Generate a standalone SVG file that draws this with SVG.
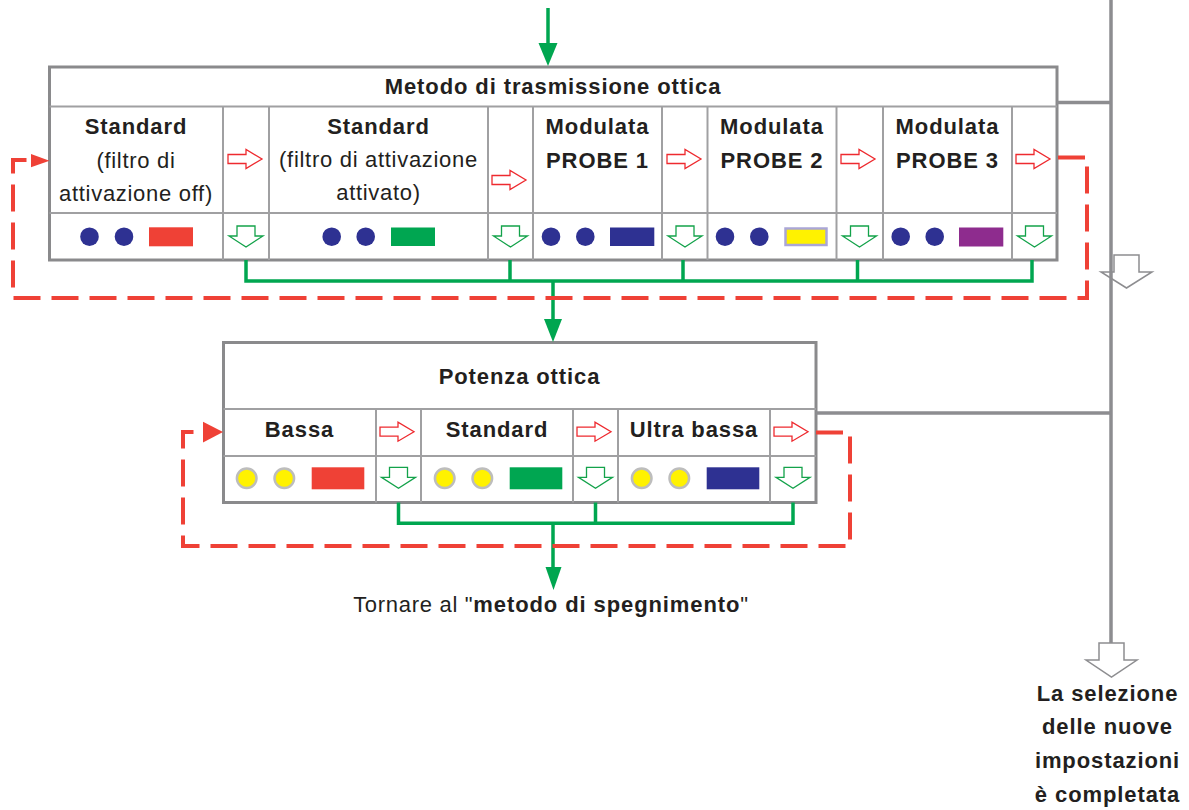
<svg xmlns="http://www.w3.org/2000/svg" xmlns:xlink="http://www.w3.org/1999/xlink" width="1189" height="810" viewBox="0 0 1189 810">
<style>
  text { font-family: "Liberation Sans", Arial, Helvetica, sans-serif; fill: #231f20; font-size: 22px; }
  .b { font-weight: bold; letter-spacing: 0.9px; text-anchor: middle; }
  .r { font-weight: normal; letter-spacing: 0.7px; text-anchor: middle; }
  .outer { fill: #ffffff; stroke: #8a8a8c; stroke-width: 3; }
  .inner { stroke: #a0a0a2; stroke-width: 2; fill: none; }
  .grey { stroke: #8d8d90; stroke-width: 3.5; fill: none; }
  .green { stroke: #00a650; stroke-width: 3.5; fill: none; }
  .dash { stroke: #ef4136; stroke-width: 4; fill: none; stroke-dasharray: 27 11; }
  .navy { fill: #2e3192; }
  .yel { fill: #fff200; stroke: #bdbdbd; stroke-width: 2.5; }
  .hollow { fill: none; stroke: #8d8d90; stroke-width: 1.5; }
</style>
<defs>
  <path id="ra" d="M0,-4.5 H18 V-9.5 L34,0 L18,9.5 V4.5 H0 Z" fill="#ffffff" stroke="#ee2a2f" stroke-width="1.3"/>
  <path id="ga" d="M-9,0 H9 V10 H17 L0,21 L-17,10 H-9 Z" fill="#ffffff" stroke="#13a24a" stroke-width="1.3"/>
</defs>

<!-- Table: Metodo di trasmissione ottica -->
<g id="table-metodo">
  <rect class="outer" x="49.5" y="67" width="1007.5" height="193"/>
  <line class="inner" x1="49.5" y1="106.5" x2="1057" y2="106.5"/>
  <line class="inner" x1="49.5" y1="213" x2="1057" y2="213"/>
  <g class="inner">
    <line x1="223" y1="106.5" x2="223" y2="260"/>
    <line x1="269" y1="106.5" x2="269" y2="260"/>
    <line x1="488" y1="106.5" x2="488" y2="260"/>
    <line x1="533" y1="106.5" x2="533" y2="260"/>
    <line x1="662" y1="106.5" x2="662" y2="260"/>
    <line x1="707.5" y1="106.5" x2="707.5" y2="260"/>
    <line x1="836.5" y1="106.5" x2="836.5" y2="260"/>
    <line x1="883" y1="106.5" x2="883" y2="260"/>
    <line x1="1012" y1="106.5" x2="1012" y2="260"/>
  </g>
  <text class="b" x="553" y="94">Metodo di trasmissione ottica</text>

  <g id="opt-standard-off">
    <text class="b" x="136" y="134">Standard</text>
    <text class="r" x="136" y="168">(filtro di</text>
    <text class="r" x="136" y="201">attivazione off)</text>
    <circle class="navy" cx="89.5" cy="236.7" r="9.3"/>
    <circle class="navy" cx="124" cy="236.7" r="9.3"/>
    <rect x="149" y="227.3" width="44" height="19" fill="#ef4136"/>
  </g>
  <g id="opt-standard-on">
    <text class="b" x="378.5" y="134">Standard</text>
    <text class="r" x="378.5" y="167">(filtro di attivazione</text>
    <text class="r" x="378.5" y="200">attivato)</text>
    <circle class="navy" cx="331.7" cy="236.7" r="9.3"/>
    <circle class="navy" cx="365.7" cy="236.7" r="9.3"/>
    <rect x="391" y="227.5" width="44" height="18.5" fill="#00a651"/>
  </g>
  <g id="opt-probe1">
    <text class="b" x="597.5" y="134">Modulata</text>
    <text class="b" x="597.5" y="168">PROBE 1</text>
    <circle class="navy" cx="551" cy="236.7" r="9.3"/>
    <circle class="navy" cx="585.3" cy="236.7" r="9.3"/>
    <rect x="610" y="227.5" width="44.3" height="18.5" fill="#2e3192"/>
  </g>
  <g id="opt-probe2">
    <text class="b" x="772" y="134">Modulata</text>
    <text class="b" x="772" y="168">PROBE 2</text>
    <circle class="navy" cx="725" cy="236.7" r="9.3"/>
    <circle class="navy" cx="759.3" cy="236.7" r="9.3"/>
    <rect x="785.5" y="228.5" width="41" height="16.5" fill="#fff200" stroke="#aaa6d6" stroke-width="2.5"/>
  </g>
  <g id="opt-probe3">
    <text class="b" x="947.5" y="134">Modulata</text>
    <text class="b" x="947.5" y="168">PROBE 3</text>
    <circle class="navy" cx="900.7" cy="236.7" r="9.3"/>
    <circle class="navy" cx="934.7" cy="236.7" r="9.3"/>
    <rect x="959" y="227.5" width="44.3" height="19" fill="#8e2c8e"/>
  </g>

  <use xlink:href="#ra" x="228" y="159"/>
  <use xlink:href="#ra" x="492" y="180"/>
  <use xlink:href="#ra" x="667" y="159"/>
  <use xlink:href="#ra" x="841" y="159"/>
  <use xlink:href="#ra" x="1016" y="159"/>

  <use xlink:href="#ga" x="246" y="226"/>
  <use xlink:href="#ga" x="510.5" y="226"/>
  <use xlink:href="#ga" x="685" y="226"/>
  <use xlink:href="#ga" x="859.5" y="226"/>
  <use xlink:href="#ga" x="1034.5" y="226"/>
</g>

<!-- Table: Potenza ottica -->
<g id="table-potenza">
  <rect class="outer" x="223.5" y="342.5" width="592.5" height="160"/>
  <line class="inner" x1="223.5" y1="409" x2="816" y2="409"/>
  <line class="inner" x1="223.5" y1="456" x2="816" y2="456"/>
  <g class="inner">
    <line x1="376" y1="409" x2="376" y2="502.5"/>
    <line x1="421" y1="409" x2="421" y2="502.5"/>
    <line x1="573" y1="409" x2="573" y2="502.5"/>
    <line x1="618" y1="409" x2="618" y2="502.5"/>
    <line x1="770" y1="409" x2="770" y2="502.5"/>
  </g>
  <text class="b" x="519.5" y="384">Potenza ottica</text>

  <g id="pow-bassa">
    <text class="b" x="299.5" y="437">Bassa</text>
    <circle class="yel" cx="246.7" cy="478.3" r="9.8"/>
    <circle class="yel" cx="284.3" cy="478.3" r="9.8"/>
    <rect x="311.7" y="467.3" width="52.6" height="22" fill="#ef4136"/>
  </g>
  <g id="pow-standard">
    <text class="b" x="497" y="437">Standard</text>
    <circle class="yel" cx="444.7" cy="478.3" r="9.8"/>
    <circle class="yel" cx="482.3" cy="478.3" r="9.8"/>
    <rect x="509.7" y="467.3" width="52.6" height="22" fill="#00a651"/>
  </g>
  <g id="pow-ultra">
    <text class="b" x="694" y="437">Ultra bassa</text>
    <circle class="yel" cx="641.7" cy="478.3" r="9.8"/>
    <circle class="yel" cx="679.3" cy="478.3" r="9.8"/>
    <rect x="706.7" y="467.3" width="52.6" height="22" fill="#2e3192"/>
  </g>

  <use xlink:href="#ra" x="380" y="431.7"/>
  <use xlink:href="#ra" x="577" y="431.7"/>
  <use xlink:href="#ra" x="774" y="431.7"/>

  <use xlink:href="#ga" x="398.5" y="467.3"/>
  <use xlink:href="#ga" x="595.5" y="467.3"/>
  <use xlink:href="#ga" x="793" y="467.3"/>
</g>

<!-- Connectors -->
<g id="connectors">
  <!-- grey exit line -->
  <line class="grey" x1="1111" y1="0" x2="1111" y2="643"/>
  <line class="grey" x1="1057" y1="102.5" x2="1111" y2="102.5"/>
  <line class="grey" x1="816" y1="413" x2="1111" y2="413"/>
  <path class="hollow" d="M1114,255 H1139 V272 H1152 L1126.5,288 L1101,272 H1114 Z"/>
  <path class="hollow" d="M1099,643 H1124 V660 H1137 L1111.5,677 L1086,660 H1099 Z"/>

  <!-- green flow -->
  <line class="green" x1="548" y1="8" x2="548" y2="46"/>
  <polygon points="538.5,43 557.5,43 548,66" fill="#00a650"/>
  <path class="green" d="M246,260 V281 H1032 V260 M510,260 V281 M683,260 V281 M857.5,260 V281 M553,281 V322"/>
  <polygon points="544,319 562,319 553,342" fill="#00a650"/>
  <path class="green" d="M398.5,502.5 V523.3 H793 V502.5 M595.5,502.5 V523.3 M553,523.3 V570"/>
  <polygon points="545.5,567 561.5,567 553.5,590" fill="#00a650"/>

  <!-- red loops -->
  <path class="dash" d="M1058,157.5 H1087 V298 H13 V160 H33"/>
  <polygon points="31,154 49.5,160.7 31,167.3" fill="#ef4136"/>
  <path class="dash" d="M816,432.5 H850 V546 H183 V432 H205"/>
  <polygon points="203,421.7 223,432 203,442.5" fill="#ef4136"/>
</g>

<g id="label-return">
  <text x="551" y="611.7" text-anchor="middle"><tspan style="letter-spacing:0.7px">Tornare al "</tspan><tspan font-weight="bold" style="letter-spacing:0.9px">metodo di spegnimento</tspan><tspan style="letter-spacing:0.7px">"</tspan></text>
</g>

<g id="label-complete">
  <text class="b" x="1107.5" y="701">La selezione</text>
  <text class="b" x="1107.5" y="734.3">delle nuove</text>
  <text class="b" x="1107.5" y="768">impostazioni</text>
  <text class="b" x="1107.5" y="801.5">è completata</text>
</g>
</svg>
